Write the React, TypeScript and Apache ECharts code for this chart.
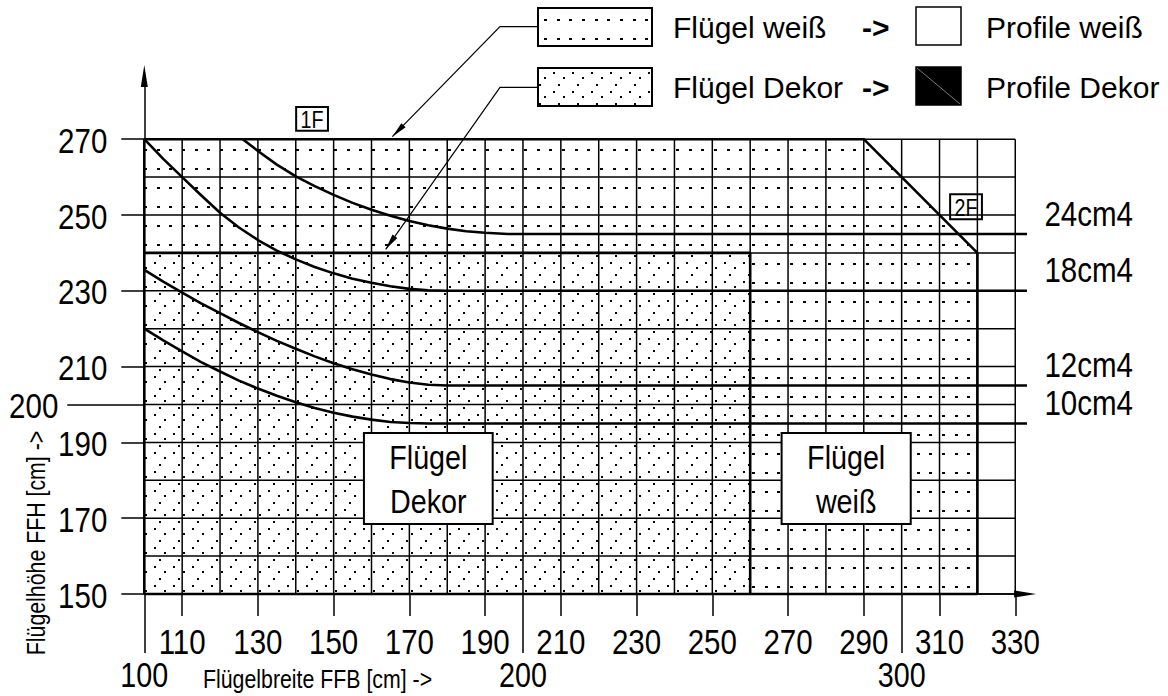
import React, { useEffect, useRef } from "react";
import * as echarts from "echarts";

// ---------------- data ----------------
const xShortTicks = [110, 130, 150, 170, 190, 210, 230, 250, 270, 290, 310, 330];
const xLongTicks = [100, 200, 300];
const yShortTicks = [150, 170, 190, 210, 230, 250, 270];
const yLongTicks = [200];
const gridXs = [100, 110, 120, 130, 140, 150, 160, 170, 180, 190, 200, 210, 220, 230, 240, 250, 260, 270, 280, 290, 300, 310, 320, 330];
const gridYs = [150, 160, 170, 180, 190, 200, 210, 220, 230, 240, 250, 260, 270];

const weissRegion = [[100, 150], [320, 150], [320, 240], [290, 270], [100, 270]];
const dekorRegion = [[100, 150], [260, 150], [260, 240], [100, 240]];
const weissOutline = [[100, 270], [290, 270], [320, 240], [320, 150], [100, 150], [100, 270]];
const dekorOutline = [[100, 240], [260, 240], [260, 150]];

const curveNames = ["24cm4", "18cm4", "12cm4", "10cm4"];
const curve24 = [[126, 270], [130, 266.9], [135, 263.3], [140, 260.2], [145, 257.6], [150, 255.3], [155, 253.2], [160, 251.4], [165, 249.8], [170, 248.4], [175, 247.3], [180, 246.4], [185, 245.7], [190, 245.3], [196, 245], [364, 245]];
const curve18 = [[100, 270], [105, 264.8], [110, 260], [115, 255.2], [120, 250.6], [125, 246.7], [130, 243.4], [135, 240.6], [140, 238.3], [145, 236.3], [150, 234.6], [155, 233.2], [160, 232.1], [165, 231.2], [170, 230.5], [175, 230.1], [180, 230], [364, 230]];
const curve12 = [[100, 235.5], [105, 232.4], [110, 229.5], [115, 226.7], [120, 224.1], [125, 221.5], [130, 219.1], [135, 216.8], [140, 214.7], [145, 212.7], [150, 210.9], [155, 209.3], [160, 207.9], [165, 206.7], [170, 205.8], [175, 205.2], [180, 205], [364, 205]];
const curve10 = [[100, 220], [105, 216.9], [110, 214], [115, 211.2], [120, 208.7], [125, 206.3], [130, 204.2], [135, 202.3], [140, 200.6], [145, 199.1], [150, 197.8], [155, 196.8], [160, 196], [165, 195.4], [170, 195.1], [175, 195], [364, 195]];
const curves = [curve24, curve18, curve12, curve10];

const boxLabels = ["Flügel\nDekor", "Flügel\nweiß"];
const tagLabels = ["1F", "2F"];
const legendLeft = ["Flügel weiß", "Flügel Dekor"];
const legendRight = ["Profile weiß", "Profile Dekor"];
const legendArrow = "->";
const xTitle = "Flügelbreite FFB [cm] ->";
const yTitle = "Flügelhöhe FFH [cm] ->";

// ---------------- layout ----------------
const X_MIN = 100, X_MAX = 332.6, Y_MIN = 150, Y_MAX = 286.7;
const GRID = { left: 144.3, right: 142.9, top: 75.9, bottom: 102 };
const boxRects = [[158, 192.5, 192, 168.5], [268.3, 192.5, 302.4, 168.5]];
const tagRects = [[140.1, 278.5, 148.5, 272.2], [312.8, 255.5, 321.2, 248.9]];
const curveLabelX = 361.1;
const NARROW_SCALE = 0.82;

const FONT = "'Liberation Sans', Arial, sans-serif";

function dotPattern(offX: number, offY: number) {
  const W = 38, H = 38;
  const c = document.createElement("canvas");
  c.width = W; c.height = H;
  const g = c.getContext("2d")!;
  g.fillStyle = "#fff";
  g.fillRect(0, 0, W, H);
  g.fillStyle = "#000";
  for (let i = 0; i < 3; i++) {
    for (let j = 0; j < 2; j++) {
      const x = Math.round((offX + (i * W) / 3) % W);
      const y = Math.round((offY + (j * H) / 2) % H);
      for (const dx of [-W, 0, W]) for (const dy of [-H, 0, H]) g.fillRect(x + dx - 1, y + dy - 1, 3, 2);
    }
  }
  return { image: c, repeat: "repeat" };
}

function diagPattern() {
  const W = 19, H = 19;
  const c = document.createElement("canvas");
  c.width = W; c.height = H;
  const g = c.getContext("2d")!;
  g.fillStyle = "#fff";
  g.fillRect(0, 0, W, H);
  g.fillStyle = "#000";
  const pts = [[3, 16], [8, 9], [13, 2]];
  for (const [x, y] of pts) for (const dx of [-W, 0, W]) for (const dy of [-H, 0, H]) g.fillRect(x + dx - 1, y + dy - 1, 2, 2);
  return { image: c, repeat: "repeat" };
}

function arrowHead(tip: number[], from: number[], len = 16, half = 3) {
  const dx = tip[0] - from[0], dy = tip[1] - from[1];
  const l = Math.hypot(dx, dy);
  const ux = dx / l, uy = dy / l;
  const bx = tip[0] - ux * len, by = tip[1] - uy * len;
  return [[tip[0], tip[1]], [bx - uy * half, by + ux * half], [bx + uy * half, by - ux * half]];
}

function narrowText(text: string, x: number, y: number, size: number, align: string, vAlign = "middle", extra: any = {}) {
  return {
    type: "text", x, y, scaleX: NARROW_SCALE, ...extra,
    style: { text, fill: "#000", fontFamily: FONT, fontSize: size, lineHeight: size, align, verticalAlign: vAlign },
  };
}

export default function App() {
  const ref = useRef<HTMLDivElement>(null);
  useEffect(() => {
    const chart = echarts.init(ref.current!, undefined, { renderer: "svg" });

    const weissFill = dotPattern(5.6, 16.5);
    const dekorFill = diagPattern();
    const legendWeiss = dotPattern(13, 1);
    const regions = [
      { points: weissRegion, fill: weissFill },
      { points: dekorRegion, fill: dekorFill },
    ];

    const gridLines: number[][] = [];
    gridXs.forEach((x) => gridLines.push([x, gridYs[0], x, gridYs[gridYs.length - 1]]));
    gridYs.forEach((y) => gridLines.push([gridXs[0], y, gridXs[gridXs.length - 1], y]));

    const lineColor = "#000";
    const tickStyle = { color: lineColor, width: 1.5 };

    // tick labels, placed through the axes' own scale
    const tickLabelData = [
      ...xShortTicks.map((v) => [v, Y_MIN, 0]),
      ...xLongTicks.map((v) => [v, Y_MIN, 1]),
      ...yShortTicks.map((v) => [X_MIN, v, 2]),
      ...yLongTicks.map((v) => [X_MIN, v, 3]),
    ];

    const lead1From = [500, 26.7], lead1Tip = [392.3, 136.7];
    const lead2From = [500, 87.3], lead2Tip = [385.7, 249.3];

    const option: any = {
      animation: false,
      backgroundColor: "#fff",
      grid: { ...GRID, containLabel: false, outerBoundsMode: "none" },
      xAxis: [
        {
          type: "value", min: X_MIN, max: X_MAX, position: "bottom",
          axisLine: { show: true, onZero: false, symbol: ["none", "triangle"], symbolSize: [7, 22], lineStyle: tickStyle },
          axisTick: { show: true, customValues: xShortTicks, length: 22, lineStyle: tickStyle },
          axisLabel: { show: false },
          splitLine: { show: false },
        },
        {
          type: "value", min: X_MIN, max: X_MAX, position: "bottom",
          axisLine: { show: false, onZero: false },
          axisTick: { show: true, customValues: xLongTicks, length: 59, lineStyle: tickStyle },
          axisLabel: { show: false },
          splitLine: { show: false },
        },
      ],
      yAxis: [
        {
          type: "value", min: Y_MIN, max: Y_MAX, position: "left",
          axisLine: { show: true, onZero: false, symbol: ["none", "triangle"], symbolSize: [7, 22], lineStyle: tickStyle },
          axisTick: { show: true, customValues: yShortTicks, length: 23, lineStyle: tickStyle },
          axisLabel: { show: false },
          splitLine: { show: false },
        },
        {
          type: "value", min: Y_MIN, max: Y_MAX, position: "left",
          axisLine: { show: false, onZero: false },
          axisTick: { show: true, customValues: yLongTicks, length: 77, lineStyle: tickStyle },
          axisLabel: { show: false },
          splitLine: { show: false },
        },
      ],
      series: [
        {
          type: "custom", name: "regions", coordinateSystem: "cartesian2d", silent: true, z: 1,
          data: regions.map((_, i) => [i]),
          renderItem: (params: any, api: any) => {
            const r = regions[params.dataIndex];
            return {
              type: "polygon",
              shape: { points: r.points.map((p) => api.coord(p)) },
              style: { fill: r.fill, stroke: "none" },
            };
          },
        },
        {
          type: "custom", name: "grid", coordinateSystem: "cartesian2d", silent: true, z: 2,
          data: gridLines, encode: { x: [0, 2], y: [1, 3] },
          renderItem: (params: any, api: any) => {
            const p1 = api.coord([api.value(0), api.value(1)]);
            const p2 = api.coord([api.value(2), api.value(3)]);
            return { type: "line", shape: { x1: p1[0], y1: p1[1], x2: p2[0], y2: p2[1] }, style: { stroke: lineColor, lineWidth: 1.5 } };
          },
        },
        ...[weissOutline, dekorOutline].map((d) => ({
          type: "line", data: d, symbol: "none", silent: true, z: 3, clip: false,
          lineStyle: { color: lineColor, width: 2.6 },
        })),
        ...curves.map((d, i) => ({
          type: "line", name: curveNames[i], data: d, symbol: "none", silent: true, z: 4, clip: false,
          smooth: false,
          lineStyle: { color: lineColor, width: 2.6, join: "round" },
        })),
        {
          type: "custom", name: "tickLabels", coordinateSystem: "cartesian2d", silent: true, z: 5,
          data: tickLabelData,
          renderItem: (params: any, api: any) => {
            const v = [api.value(0), api.value(1)];
            const kind = api.value(2);
            const p = api.coord(v);
            if (kind === 0) return narrowText(String(v[0]), p[0], p[1] + 47, 36, "center");
            if (kind === 1) return narrowText(String(v[0]), p[0], p[1] + 81, 35, "center");
            if (kind === 2) return narrowText(String(v[1]), p[0] - 37, p[1] + 1, 36, "right");
            return narrowText(String(v[1]), p[0] - 86, p[1] + 1, 36, "right");
          },
        },
        {
          type: "custom", name: "curveLabels", coordinateSystem: "cartesian2d", silent: true, z: 5,
          data: curves.map((c) => [curveLabelX, c[c.length - 1][1]]),
          renderItem: (params: any, api: any) => {
            const p = api.coord([api.value(0), api.value(1)]);
            return narrowText(curveNames[params.dataIndex], p[0], p[1] - 21, 36, "right");
          },
        },
        {
          type: "custom", name: "boxes", coordinateSystem: "cartesian2d", silent: true, z: 6,
          data: boxRects, encode: { x: [0, 2], y: [1, 3] },
          renderItem: (params: any, api: any) => {
            const p1 = api.coord([api.value(0), api.value(1)]);
            const p2 = api.coord([api.value(2), api.value(3)]);
            return {
              type: "group",
              children: [
                { type: "rect", shape: { x: p1[0], y: p1[1], width: p2[0] - p1[0], height: p2[1] - p1[1] }, style: { fill: "#fff", stroke: "#000", lineWidth: 2 } },
                {
                  type: "text", x: (p1[0] + p2[0]) / 2, y: (p1[1] + p2[1]) / 2 + 1, scaleX: 0.87,
                  style: { text: boxLabels[params.dataIndex], fill: "#000", fontFamily: FONT, fontSize: 33, lineHeight: 44, align: "center", verticalAlign: "middle" },
                },
              ],
            };
          },
        },
        {
          type: "custom", name: "tags", coordinateSystem: "cartesian2d", silent: true, z: 6,
          data: tagRects, encode: { x: [0, 2], y: [1, 3] },
          renderItem: (params: any, api: any) => {
            const p1 = api.coord([api.value(0), api.value(1)]);
            const p2 = api.coord([api.value(2), api.value(3)]);
            return {
              type: "group",
              children: [
                { type: "rect", shape: { x: p1[0], y: p1[1], width: p2[0] - p1[0], height: p2[1] - p1[1] }, style: { fill: params.dataIndex === 0 ? "#fff" : "none", stroke: "#000", lineWidth: 2 } },
                narrowText(tagLabels[params.dataIndex], (p1[0] + p2[0]) / 2, (p1[1] + p2[1]) / 2 + 1, 24, "center"),
              ],
            };
          },
        },
      ],
      graphic: [
        // legend swatches
        { type: "rect", z: 10, shape: { x: 538, y: 8, width: 114, height: 38 }, style: { fill: legendWeiss, stroke: "#000", lineWidth: 2 } },
        { type: "rect", z: 10, shape: { x: 538, y: 68, width: 114, height: 38 }, style: { fill: dekorFill, stroke: "#000", lineWidth: 2 } },
        { type: "rect", z: 10, shape: { x: 916, y: 7, width: 45, height: 38 }, style: { fill: "#fff", stroke: "#000", lineWidth: 1.5 } },
        { type: "rect", z: 10, shape: { x: 916, y: 67, width: 45, height: 38 }, style: { fill: "#000", stroke: "#000", lineWidth: 1.5 } },
        { type: "line", z: 11, shape: { x1: 917, y1: 68, x2: 960, y2: 104 }, style: { stroke: "#999", lineWidth: 0.8 } },
        ...legendLeft.map((t, i) => ({ type: "text", z: 10, x: 673, y: 27 + i * 60, style: { text: t, fill: "#000", fontFamily: FONT, fontSize: 30, verticalAlign: "middle" } })),
        ...legendLeft.map((_, i) => ({ type: "text", z: 10, x: 862, y: 27 + i * 60, style: { text: legendArrow, fill: "#000", fontFamily: FONT, fontSize: 30, fontWeight: "bold", verticalAlign: "middle" } })),
        ...legendRight.map((t, i) => ({ type: "text", z: 10, x: 986, y: 27 + i * 60, style: { text: t, fill: "#000", fontFamily: FONT, fontSize: 30, verticalAlign: "middle" } })),
        // leader lines
        { type: "polyline", z: 10, shape: { points: [[538, lead1From[1]], lead1From, lead1Tip] }, style: { stroke: "#000", lineWidth: 1.2, fill: "none" } },
        { type: "polygon", z: 10, shape: { points: arrowHead(lead1Tip, lead1From) }, style: { fill: "#000" } },
        { type: "polyline", z: 10, shape: { points: [[538, lead2From[1]], lead2From, lead2Tip] }, style: { stroke: "#000", lineWidth: 1.2, fill: "none" } },
        { type: "polygon", z: 10, shape: { points: arrowHead(lead2Tip, lead2From) }, style: { fill: "#000" } },
        // axis titles
        narrowText(xTitle, 203, 679, 26, "left", "middle", { z: 10 }),
        narrowText(yTitle, 36, 543, 26, "center", "middle", { z: 10, rotation: Math.PI / 2 }),
      ],
    };
    chart.setOption(option);
    return () => chart.dispose();
  }, []);
  return <div ref={ref} style={{ position: "fixed", left: 0, top: 0, width: 1168, height: 696, background: "#fff" }} />;
}
